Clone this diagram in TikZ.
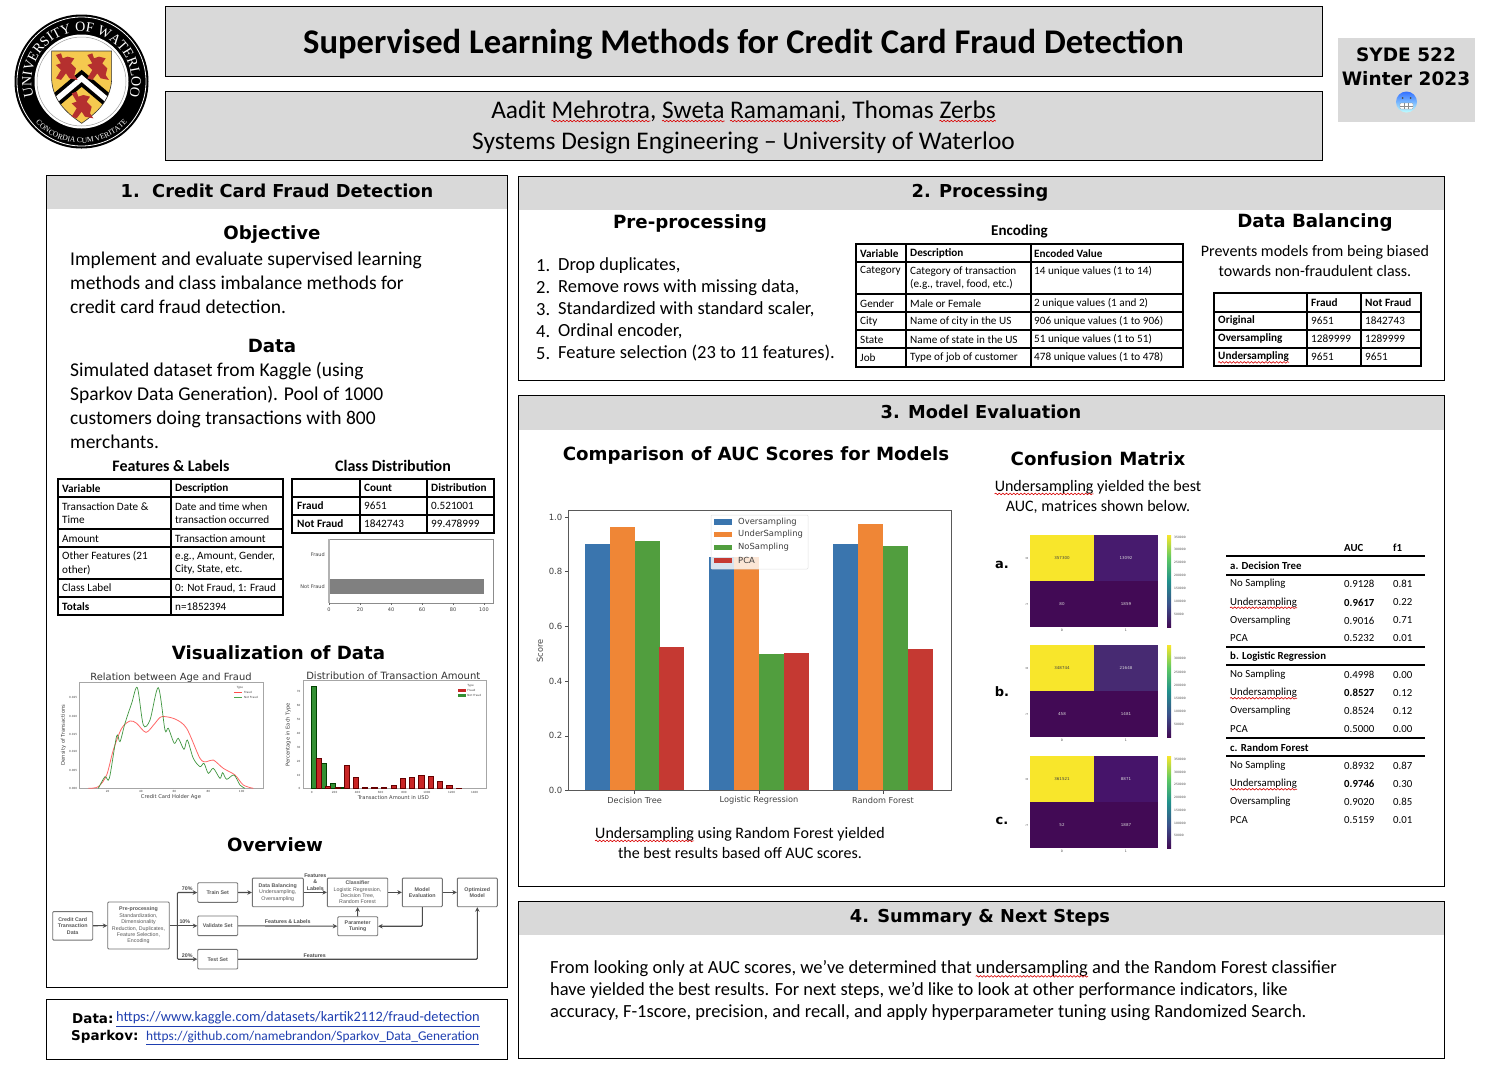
\documentclass[tikz,border=0pt]{standalone}
\usepackage{amsmath}
\usepackage{xcolor}
\usepackage{fontspec}
\usepackage{tikz}
\usetikzlibrary{arrows.meta,positioning,calc,decorations.text,decorations.pathmorphing}
\setmainfont{Carlito}
\newfontfamily\headfont{DejaVu Sans}
\newfontfamily\plotfont{DejaVu Sans}
\newfontfamily\flowfont{Liberation Sans}
\newfontfamily\sealfont{Liberation Serif}
\newcommand{\fsize}[2]{\fontsize{#1}{#2}\selectfont}
\definecolor{panelgray}{HTML}{D9D9D9}
\definecolor{barblue}{HTML}{3A75AE}
\definecolor{barorange}{HTML}{EF8636}
\definecolor{bargreen}{HTML}{519E3E}
\definecolor{barred}{HTML}{C53932}
\definecolor{vyellow}{HTML}{F8E62B}
\definecolor{vdark}{HTML}{420A55}
\definecolor{vblue}{HTML}{3B528B}
\definecolor{vteal}{HTML}{21918C}
\definecolor{vgreen}{HTML}{5EC962}
\definecolor{cornera}{HTML}{471B6E}
\definecolor{cornerb}{HTML}{472A72}
\definecolor{cornerc}{HTML}{46146A}
\definecolor{lionred}{HTML}{B5302F}
\definecolor{shieldyellow}{HTML}{F5C94F}
\definecolor{linkblue}{HTML}{1F3FB0}
\pgfdeclareverticalshading{viridis}{100bp}{color(0bp)=(vdark); color(25bp)=(vdark); color(37.5bp)=(vblue); color(50bp)=(vteal); color(62.5bp)=(vgreen); color(75bp)=(vyellow); color(100bp)=(vyellow)}
% spell checker underline
\newcommand{\spell}[1]{\tikz[baseline=(spw.base)]{\node[inner sep=0pt] (spw) {#1};
  \draw[overlay,draw=red!85!black,line width=.6pt,decorate,decoration={snake,amplitude=.8pt,segment length=3.6pt}]
    ($(spw.base west)+(0,-2.4pt)$) -- ($(spw.base east)+(0,-2.4pt)$);}}
% heraldic lion of the seal
\newcommand{\lionat}[2]{\fill[lionred,shift={(#1,#2)}] (-30,-35) -- (-15,-40) -- (-10,-25) -- (5,-30) -- (25,-25) -- (15,-10)
  -- (30,5) -- (25,25) -- (35,40) -- (10,35) -- (0,20) -- (-15,40) -- (-30,35) -- (-15,10) -- (-30,-5) -- (-15,-10) -- cycle;}

\begin{document}
\begin{tikzpicture}[
  x=1pt, y=-1pt,
  >=Stealth,
  panel/.style={draw=black, line width=.8pt},
  headbar/.style={fill=panelgray},
  sectitle/.style={font=\headfont\bfseries\fsize{17.8}{19}, inner sep=0pt},
  subtitle/.style={font=\headfont\bfseries\fsize{18.2}{20}, inner sep=0pt},
  body/.style={anchor=west, font=\fsize{19.5}{24}, inner sep=0pt, align=left},
  midtext/.style={font=\fsize{16}{20}, inner sep=0pt, align=center},
  tabtitle/.style={font=\bfseries\fsize{16}{17}, inner sep=0pt},
  tline/.style={line width=1.6pt, line cap=rect},
  cell/.style={anchor=west, font=\fsize{11.2}{13.5}, inner sep=0pt, align=left},
  boldcell/.style={cell, font=\bfseries\fsize{11.2}{13.5}},
  plottext/.style={font=\plotfont\fsize{#1}{#1}, inner sep=0pt, text=black!75},
  plottext/.default=4,
  flowbox/.style={draw=black!55, fill=white, rounded corners=1pt, line width=.9pt, align=center,
                  inner sep=0pt, font=\flowfont\fsize{5.3}{6.4}, text=black!65},
  flowlabel/.style={font=\flowfont\bfseries\fsize{5.3}{6.4}, text=black!70, align=center, inner sep=1.5pt},
  flow/.style={->, draw=black!70, line width=1.1pt, rounded corners=1pt, >={Stealth[length=4.5pt,width=4.5pt]}},
]
\useasboundingbox (0,0) rectangle (1492,1072);
\fill[white] (0,0) rectangle (1492,1072);

% seal
\begin{scope}[shift={(81.5,81.5)},y=1pt]
  \fill[black] (0,0) circle (67pt);
  \draw[white,line width=.8pt] (0,0) circle (64.5pt);
  \fill[white] (0,0) circle (47pt);
  \draw[black!40,line width=.5pt] (0,0) circle (44.5pt);
  \path[decorate,decoration={text along path,text align=center,
        text={|\sealfont\fsize{14}{15}\color{white}|UNIVERSITY OF WATERLOO}}]
        (0,0) ++(195:50pt) arc[start angle=195,end angle=-15,radius=50pt];
  \path[decorate,decoration={text along path,text align=center,
        text={|\sealfont\fsize{7.6}{9}\color{white}|CONCORDIA CUM VERITATE}}]
        (0,0) ++(212:61.5pt) arc[start angle=212,end angle=328,radius=61.5pt];
\end{scope}
\begin{scope}[x=.3333pt,y=-.3333pt]
  \path[fill=shieldyellow] (155,153) -- (335,153) -- (335,240) .. controls (330,310) and (280,345) .. (245,370)
     .. controls (210,345) and (160,310) .. (155,240) -- cycle;
  \begin{scope}
    \clip (155,153) -- (335,153) -- (335,240) .. controls (330,310) and (280,345) .. (245,370)
     .. controls (210,345) and (160,310) .. (155,240) -- cycle;
    \draw[black,line width=13pt] (150,315) -- (245,235) -- (340,315);
    \draw[white,line width=5.5pt] (150,315) -- (245,235) -- (340,315);
  \end{scope}
  \draw[black!80,line width=.6pt] (155,153) -- (335,153) -- (335,240) .. controls (330,310) and (280,345) .. (245,370)
     .. controls (210,345) and (160,310) .. (155,240) -- cycle;
  \lionat{198}{200}
  \lionat{292}{200}
  \lionat{245}{315}
\end{scope}

% title boxes
\node[panel,fill=panelgray,minimum width=1157pt,minimum height=70pt,inner sep=0pt] (titlebox) at (743.5,41) {};
\node[font=\bfseries\fsize{34.6}{37}] (title) at (743.5,44) {Supervised Learning Methods for Credit Card Fraud Detection};
\node[panel,fill=panelgray,minimum width=1157pt,minimum height=69pt,inner sep=0pt] (authorbox) at (743.5,125.5) {};
\node[font=\fsize{25.4}{31},align=center] (authors) at (743.5,127.5)
  {Aadit \spell{Mehrotra}, \spell{Sweta} \spell{Ramamani}, Thomas \spell{Zerbs}\\Systems Design Engineering -- University of Waterloo};
\node[fill=panelgray,minimum width=137pt,minimum height=84pt,inner sep=0pt] (coursebox) at (1406.5,80) {};
\node[font=\headfont\bfseries\fsize{18.5}{24},align=center,inner sep=0pt] (course) at (1406,67) {SYDE 522\\Winter 2023};
% cold face
\shade[top color=blue!70!cyan!80!white,bottom color=cyan!25] (1406.5,102) circle (10.5pt);
\fill[black!70] (1402.5,98) circle (1pt) (1410.5,98) circle (1pt);
\fill[white,draw=black!50,line width=.3pt,rounded corners=1pt] (1400,103) rectangle (1413,109);
\draw[black!45,line width=.3pt] (1400,106) -- (1413,106) (1404,103) -- (1404,109) (1408.5,103) -- (1408.5,109);

% 1. credit card panel
\fill[headbar] (46,175) rectangle (507,209);
\draw[panel] (46,175) rectangle (507,987);
\node[sectitle] (head1) at (277,190.5) {1.\ \ Credit Card Fraud Detection};
\node[subtitle] (objective) at (272,235) {Objective};
\node[body] (objtext) at (70,283) {Implement and evaluate supervised learning\\methods and class imbalance methods for\\credit card fraud detection.};
\node[subtitle] (datahead) at (272,345.5) {Data};
\node[body] (datatext) at (70,405) {Simulated dataset from Kaggle (using\\Sparkov Data Generation). Pool of 1000\\customers doing transactions with 800\\merchants.};

\node[tabtitle] (feattitle) at (171,466) {Features \& Labels};
\node[tabtitle] (classtitle) at (393,466) {Class Distribution};
\foreach \ypos in {479,497,529,547,579,597,615} \draw[tline] (58,\ypos) -- (283,\ypos);
\foreach \xpos in {58,171,283} \draw[tline] (\xpos,479) -- (\xpos,615);
\foreach \ypos/\vartext/\desctext [count=\r] in {
    513/{Transaction Date \&\\Time}/{Date and time when\\transaction occurred},
    538.5/Amount/Transaction amount,
    563/{Other Features (21\\other)}/{e.g., Amount, Gender,\\City, State, etc.},
    588/Class Label/{0: Not Fraud, 1: Fraud}}{
  \node[cell] (featv\r) at (62,\ypos) {\vartext};
  \node[cell] (featd\r) at (175,\ypos) {\desctext};
}
\node[boldcell] (featvh) at (62,488.5) {Variable};
\node[boldcell] (featdh) at (175,488.5) {Description};
\node[boldcell] (featvt) at (62,606.5) {Totals};
\node[cell] (featdt) at (175,606.5) {n=1852394};

\foreach \ypos in {479,497,515,533} \draw[tline] (292,\ypos) -- (494,\ypos);
\foreach \xpos in {292,360,427,494} \draw[tline] (\xpos,479) -- (\xpos,533);
\node[boldcell] (classc) at (364,488) {Count};
\node[boldcell] (classd) at (431,488) {Distribution};
\node[boldcell] (classf) at (297,506) {Fraud};
\node[cell] (classfc) at (364,506) {9651};
\node[cell] (classfd) at (431,506) {0.521001};
\node[boldcell] (classn) at (297,524) {Not Fraud};
\node[cell] (classnc) at (364,524) {1842743};
\node[cell] (classnd) at (431,524) {99.478999};

% class chart
\fill[black!50] (329,579) rectangle (484,594);
\draw[black!45,line width=.7pt] (329,539) rectangle (493,603);
\draw[black!30,line width=1.2pt] (329,539) -- (329,603);
\node[plottext=5,anchor=east] (cf) at (325,555) {Fraud};
\node[plottext=5,anchor=east] (cn) at (325,587) {Not Fraud};
\foreach \v [count=\t from 0] in {0,20,40,60,80,100}{
  \draw[black!60,line width=.4pt] ({329+31*\t},603) -- ({329+31*\t},605);
  \node[plottext=5] (ct\t) at ({329+31*\t},609.5) {\v};
}

\node[subtitle] (vishead) at (278.5,652.5) {Visualization of Data};

% age density
\begin{scope}[shift={(40,660)},x=.3333pt,y=-.3333pt]
  \draw[black!35,line width=.6pt] (118,68) rectangle (670,385);
  \draw[red!60,line width=.8pt] plot[smooth] coordinates {(145,385) (175,380) (200,345) (220,270) (245,205) (270,183) (290,190) (318,217)
    (345,190) (365,170) (405,177) (440,205) (480,295) (500,305) (520,300) (550,325) (585,345) (610,375) (640,385)};
  \draw[green!45!black!75,line width=.7pt] plot[smooth] coordinates {(175,385) (195,350) (208,355) (230,228) (240,245) (255,190) (275,130) (292,83) (310,195)
    (330,180) (355,83) (375,210) (385,205) (403,250) (415,235) (432,268) (442,240) (460,295) (480,320) (492,310) (505,340) (520,325) (540,355) (548,338)
    (560,358) (582,345) (600,375) (615,385)};
  \node[font=\plotfont\fsize{9.9}{10},text=black!80,inner sep=0pt] (agetitle) at (393,54) {Relation between Age and Fraud};
  \node[plottext=5.2,rotate=90] (ageylab) at (70,225) {Density of Transactions};
  \node[plottext=5.2] (agexlab) at (393,412) {Credit Card Holder Age};
  \foreach \xpos/\v in {203/20,303/40,403/60,505/80,605/100}
    \node[plottext=2.8] (agex\v) at (\xpos,395) {\v};
  \foreach \ypos/\v in {385/0.000,330/0.005,275/0.010,222/0.015,168/0.020,113/0.025}
    \node[plottext=2.8,anchor=east] at (112,\ypos) {\v};
  \node[plottext=2.8] (agetype) at (600,82) {Type};
  \draw[red!70,line width=.6pt] (583,97) -- (607,97);
  \draw[green!50!black!70,line width=.6pt] (583,112) -- (607,112);
  \node[plottext=2.8,anchor=west] (agefr) at (612,97) {Fraud};
  \node[plottext=2.8,anchor=west] (agenf) at (612,112) {Not Fraud};
\end{scope}

% amount histogram
\begin{scope}[shift={(40,660)},x=.3333pt,y=-.3333pt]
  \draw[black!35,line width=.6pt] (790,62) rectangle (1340,385);
  \foreach \xa/\xb/\ytop in {815/830/78,843/858/308,870/885/369,900/912/382}
    \filldraw[fill=green!45!black!80,draw=green!25!black,line width=.3pt] (\xa,385) rectangle (\xb,\ytop);
  \foreach \xa/\xb/\ytop in {830/843/295,857/870/377,885/900/382,912/928/316,940/955/350,968/983/381,995/1012/381,1024/1040/381,
      1053/1068/375,1080/1097/354,1108/1124/351,1136/1152/344,1164/1180/349,1192/1208/363,1220/1236/375,1248/1263/383}
    \filldraw[fill=red!75!black!85,draw=red!40!black,line width=.3pt] (\xa,385) rectangle (\xb,\ytop);
  \node[font=\plotfont\fsize{10}{10},text=black!80,inner sep=0pt] (amttitle) at (1060,47) {Distribution of Transaction Amount};
  \node[plottext=5.2,rotate=90] (amtylab) at (745,225) {Percentage in Each Type};
  \node[plottext=5.2] (amtxlab) at (1060,414) {Transaction Amount in USD};
  \foreach \xpos/\v in {815/0,884/200,953/400,1022/600,1092/800,1161/1000,1235/1200,1304/1400}
    \node[plottext=2.8] (amtx\v) at (\xpos,397) {\v};
  \foreach \ypos/\v in {385/0,345/10,303/20,262/30,220/40,178/50,137/60,95/70}
    \node[plottext=2.8,anchor=east] at (782,\ypos) {\v};
  \node[plottext=2.8] (amttype) at (1292,76) {Type};
  \fill[red!75!black!85] (1254,88) rectangle (1277,96);
  \fill[green!45!black!80] (1254,102) rectangle (1277,110);
  \node[plottext=2.8,anchor=west] (amtfr) at (1282,92) {Fraud};
  \node[plottext=2.8,anchor=west] (amtnf) at (1282,106) {Not Fraud};
\end{scope}

\node[subtitle] (overhead) at (275,845) {Overview};

% overview flow
\node[flowbox,minimum width=40pt,minimum height=28.5pt] (ccdata) at (72.7,925.8) {\bfseries Credit Card\\\bfseries Transaction\\\bfseries Data};
\node[flowbox,minimum width=61.5pt,minimum height=47pt] (preproc) at (138.5,925.5)
  {\bfseries Pre-processing\\Standardization,\\Dimensionality\\Reduction, Duplicates,\\Feature Selection,\\Encoding};
\node[flowbox,minimum width=40pt,minimum height=19.6pt] (trainset) at (217.7,892.5) {\bfseries Train Set};
\node[flowbox,minimum width=40pt,minimum height=19.6pt] (valset) at (217.7,925.8) {\bfseries Validate Set};
\node[flowbox,minimum width=40pt,minimum height=19.6pt] (testset) at (217.7,959.2) {\bfseries Test Set};
\node[flowbox,minimum width=51pt,minimum height=28.7pt] (databal) at (277.8,892.4) {\bfseries Data Balancing\\Undersampling,\\Oversampling};
\node[flowbox,minimum width=60.4pt,minimum height=28.7pt] (classifier) at (357.5,892.4) {\bfseries Classifier\\Logistic Regression,\\Decision Tree,\\Random Forest};
\node[flowbox,minimum width=40pt,minimum height=28.7pt] (modeleval) at (422.3,892.4) {\bfseries Model\\\bfseries Evaluation};
\node[flowbox,minimum width=40pt,minimum height=28.7pt] (optmodel) at (477.3,892.4) {\bfseries Optimized\\\bfseries Model};
\node[flowbox,minimum width=40pt,minimum height=19pt] (partune) at (357.7,926.2) {\bfseries Parameter\\\bfseries Tuning};
\coordinate (split) at (177.3,925.8);

\draw[flow] (ccdata) -- (preproc);
\draw[flow] (preproc.east |- split) -- node[above,flowlabel,pos=.55]{10\%} (valset);
\draw[flow] (split) |- node[above,flowlabel,pos=.75]{70\%} (trainset);
\draw[flow] (split) |- node[above,flowlabel,pos=.75]{20\%} (testset);
\draw[flow] (trainset) -- (databal);
\draw[flow] (databal) -- node[above,flowlabel]{Features\\\&\\Labels} (classifier);
\draw[flow] (classifier) -- (modeleval);
\draw[flow] (modeleval) -- (optmodel);
\draw[flow] (valset) -- node[above,flowlabel]{Features \& Labels} (partune);
\draw[flow] (partune) -- (classifier);
\draw[flow] (modeleval.south) |- (partune.east);
\draw[flow] (testset) -| node[above,flowlabel,pos=.16]{Features} (optmodel.south);

% links panel
\draw[panel] (46,999) rectangle (507,1059);
\node[anchor=west,inner sep=0pt,font=\headfont\bfseries\fsize{13.5}{15}] (datalabel) at (72,1018.5) {Data:};
\node[anchor=west,inner sep=0pt,font=\fsize{14.4}{15},text=linkblue] (datalink) at (116,1019.5) {\underline{https://www.kaggle.com/datasets/kartik2112/fraud-detection}};
\node[anchor=west,inner sep=0pt,font=\headfont\bfseries\fsize{13.5}{15}] (sparklabel) at (71,1036.5) {Sparkov:};
\node[anchor=west,inner sep=0pt,font=\fsize{13.4}{15},text=linkblue] (sparklink) at (146,1038) {\underline{https://github.com/namebrandon/Sparkov\_Data\_Generation}};

% 2. processing panel
\fill[headbar] (518,176) rectangle (1444,210);
\draw[panel] (518,176) rectangle (1444,380);
\node[sectitle] (head2) at (980,192.5) {2. Processing};
\node[subtitle] (prehead) at (690,224) {Pre-processing};
\foreach \ypos/\item [count=\r] in {265.5/{Drop duplicates,},287.5/{Remove rows with missing data,},309.5/{Standardized with standard scaler,},331.5/{Ordinal encoder,},353.5/{Feature selection (23 to 11 features).}}{
  \node[anchor=west,inner sep=0pt,font=\fsize{18.5}{20}] (itemnum\r) at (536,\ypos) {\r.};
  \node[anchor=west,inner sep=0pt,font=\fsize{18.5}{20}] (item\r) at (558,\ypos) {\item};
}
\node[font=\bfseries\fsize{15}{16},inner sep=0pt] (enctitle) at (1019.5,231.5) {Encoding};
\foreach \ypos in {244,262,294,312,330,348,367} \draw[tline] (856,\ypos) -- (1183,\ypos);
\foreach \xpos in {856,906,1031,1183} \draw[tline] (\xpos,244) -- (\xpos,367);
\node[boldcell] (encvh) at (860,253.5) {Variable};
\node[boldcell] (encdh) at (910,253.5) {Description};
\node[boldcell] (enceh) at (1034,253.5) {Encoded Value};
\foreach \ypos/\vartext/\desctext/\valtext [count=\r] in {
    303.5/Gender/Male or Female/{2 unique values (1 and 2)},
    321.5/City/Name of city in the US/{906 unique values (1 to 906)},
    339.5/State/Name of state in the US/{51 unique values (1 to 51)},
    357.5/Job/Type of job of customer/{478 unique values (1 to 478)}}{
  \node[cell] (encv\r) at (860,\ypos) {\vartext};
  \node[cell] (encd\r) at (910,\ypos) {\desctext};
  \node[cell] (ence\r) at (1034,\ypos) {\valtext};
}
\node[cell] (encvc) at (860,271) {Category};
\node[cell] (encdc) at (910,278) {Category of transaction\\(e.g., travel, food, etc.)};
\node[cell] (encec) at (1034,271) {14 unique values (1 to 14)};

\node[subtitle] (balhead) at (1315,223) {Data Balancing};
\node[midtext] (baltext) at (1315,261) {Prevents models from being biased\\towards non-fraudulent class.};
\foreach \ypos in {293,312,330,348,366} \draw[tline] (1214,\ypos) -- (1421,\ypos);
\foreach \xpos in {1214,1307,1361,1421} \draw[tline] (\xpos,293) -- (\xpos,366);
\node[boldcell] (balf) at (1311,303) {Fraud};
\node[boldcell] (baln) at (1365,303) {Not Fraud};
\foreach \ypos/\rowtext/\fr/\nf [count=\r] in {321/Original/9651/1842743,339/Oversampling/1289999/1289999,357/\spell{Undersampling}/9651/9651}{
  \node[boldcell] (balr\r) at (1218,\ypos) {\rowtext};
  \node[cell] (balf\r) at (1311,\ypos) {\fr};
  \node[cell] (baln\r) at (1365,\ypos) {\nf};
}

% 3. model evaluation panel
\fill[headbar] (518,395) rectangle (1444,430);
\draw[panel] (518,395) rectangle (1444,886);
\node[sectitle] (head3) at (981,412) {3. Model Evaluation};
\node[subtitle] (auchead) at (756,455) {Comparison of AUC Scores for Models};
\node[subtitle] (confhead) at (1098,459) {Confusion Matrix};
\node[midtext] (conftext) at (1098,497) {\spell{Undersampling} yielded the best\\AUC, matrices shown below.};

% auc bars
\foreach \xl/\vh/\cl in {585/.9016/barblue,610/.9617/barorange,634.7/.9128/bargreen,659.3/.5232/barred,
    709/.8524/barblue,734/.8527/barorange,759/.4998/bargreen,783.7/.503/barred,
    833.3/.9020/barblue,858.3/.9746/barorange,883/.8932/bargreen,908/.5159/barred}
  \fill[\cl] (\xl,790.5) rectangle ({\xl+24.9},{790.5-273.5*\vh});
\draw[black!65,line width=.8pt] (568,510) rectangle (951,790.5);
\foreach \v in {0.0,0.2,0.4,0.6,0.8,1.0}{
  \draw[black!70,line width=.5pt] (565,{790.5-273.5*\v}) -- (568,{790.5-273.5*\v});
  \node[plottext=8.5,anchor=east] (aucy\v) at (562.5,{790.5-273.5*\v}) {\v};
}
\foreach \xpos/\grp in {634.7/Decision Tree,759/Logistic Regression,883/Random Forest}{
  \draw[black!70,line width=.5pt] (\xpos,790.5) -- (\xpos,793.5);
  \node[plottext=8.2] at (\xpos,800) {\grp};
}
\node[plottext=8.2,rotate=90] (aucylab) at (540,651) {Score};
\fill[white,opacity=.8] (711,515) rectangle (808,569);
\draw[black!12,line width=.5pt,rounded corners=1pt] (711,515) rectangle (808,569);
\foreach \ypos/\cl/\lab in {521.7/barblue/Oversampling,534.3/barorange/UnderSampling,547.3/bargreen/NoSampling,560.3/barred/PCA}{
  \fill[\cl] (714,\ypos-2.8) rectangle (732,\ypos+2.8);
  \node[plottext=8.4,anchor=west] at (738,\ypos) {\lab};
}
\node[midtext] (auctext) at (740,843) {\spell{Undersampling} using Random Forest yielded\\the best results based off AUC scores.};

% confusion matrices
\foreach \letter/\ya/\ym/\yb/\cornercol/\nn/\np/\pn/\pp in {
    a/535/581/627/cornera/357300/13092/80/1859,
    b/645/691/737/cornerb/348744/21648/458/1481,
    c/756/802/848/cornerc/361521/8871/52/1887}{
  \fill[vdark] (1030,\ya) rectangle (1158,\yb);
  \fill[vyellow] (1030,\ya) rectangle (1094,\ym);
  \fill[\cornercol] (1094,\ya) rectangle (1158,\ym);
  \shade[shading=viridis] (1167,\ya) rectangle (1171,\yb);
  \node[plottext=4,text=black!75] (cm\letter nn) at (1062,{(\ya+\ym)/2}) {\nn};
  \node[plottext=4,text=white!85!black] (cm\letter np) at (1126,{(\ya+\ym)/2}) {\np};
  \node[plottext=4,text=white!85!black] (cm\letter pn) at (1062,{(\ym+\yb)/2}) {\pn};
  \node[plottext=4,text=white!85!black] (cm\letter pp) at (1126,{(\ym+\yb)/2}) {\pp};
  \node[plottext=3.2] (cm\letter x0) at (1062,\yb+3.5) {0};
  \node[plottext=3.2] (cm\letter x1) at (1126,\yb+3.5) {1};
  \node[plottext=3.2,rotate=90] (cm\letter y0) at (1027,{(\ya+\ym)/2}) {0};
  \node[plottext=3.2,rotate=90] (cm\letter y1) at (1027,{(\ym+\yb)/2}) {1};
}
\node[font=\headfont\bfseries\fsize{13}{14},inner sep=0pt] (lettera) at (1002,564.5) {a.};
\node[font=\headfont\bfseries\fsize{13}{14},inner sep=0pt] (letterb) at (1002,691.5) {b.};
\node[font=\headfont\bfseries\fsize{13}{14},inner sep=0pt] (letterc) at (1002,820.5) {c.};
\foreach \ypos/\v in {537/350000,549.5/300000,562.5/250000,575.5/200000,588.5/150000,601/100000,614/50000,
    658/300000,672/250000,685/200000,698/150000,711/100000,724/50000,
    759/350000,772/300000,784/250000,797/200000,810/150000,823/100000,835/50000}
  \node[plottext=3,anchor=west] at (1174,\ypos) {\v};

% auc table
\foreach \ypos in {556,575,647,665,738,756} \draw[line width=1.2pt] (1226,\ypos) -- (1425,\ypos);
\node[boldcell,font=\bfseries\fsize{10.8}{12}] (auccol) at (1344,547.5) {AUC};
\node[boldcell,font=\bfseries\fsize{10.8}{12}] (f1col) at (1393,547.5) {f1};
\foreach \ypos/\grp [count=\r] in {566/a. Decision Tree,656.5/b. Logistic Regression,747.5/c. Random Forest}
  \node[boldcell,font=\bfseries\fsize{10.8}{12}] (aucgrp\r) at (1230,\ypos) {\grp};
\foreach \ypos/\lab/\auc/\fone [count=\r] in {
    584/No Sampling/0.9128/0.81,602.5/\spell{Undersampling}/\textbf{0.9617}/0.22,620.5/Oversampling/0.9016/0.71,638.5/PCA/0.5232/0.01,
    675/No Sampling/0.4998/0.00,693/\spell{Undersampling}/\textbf{0.8527}/0.12,711/Oversampling/0.8524/0.12,729/PCA/0.5000/0.00,
    766/No Sampling/0.8932/0.87,784/\spell{Undersampling}/\textbf{0.9746}/0.30,802/Oversampling/0.9020/0.85,820/PCA/0.5159/0.01}{
  \node[cell,font=\fsize{10.8}{12}] (aucl\r) at (1230,\ypos) {\lab};
  \node[cell,font=\fsize{10.8}{12}] (aucv\r) at (1344,\ypos) {\auc};
  \node[cell,font=\fsize{10.8}{12}] (aucf\r) at (1393,\ypos) {\fone};
}

% 4. summary panel
\fill[headbar] (518,901) rectangle (1444,935);
\draw[panel] (518,901) rectangle (1444,1058);
\node[sectitle] (head4) at (980,917.5) {4. Summary \& Next Steps};
\node[body,font=\fsize{18.5}{22}] (summary) at (550,991)
  {From looking only at AUC scores, we've determined that \spell{undersampling} and the Random Forest classifier\\
   have yielded the best results. For next steps, we'd like to look at other performance indicators, like\\
   accuracy, F-1score, precision, and recall, and apply hyperparameter tuning using Randomized Search.};
\end{tikzpicture}
\end{document}
